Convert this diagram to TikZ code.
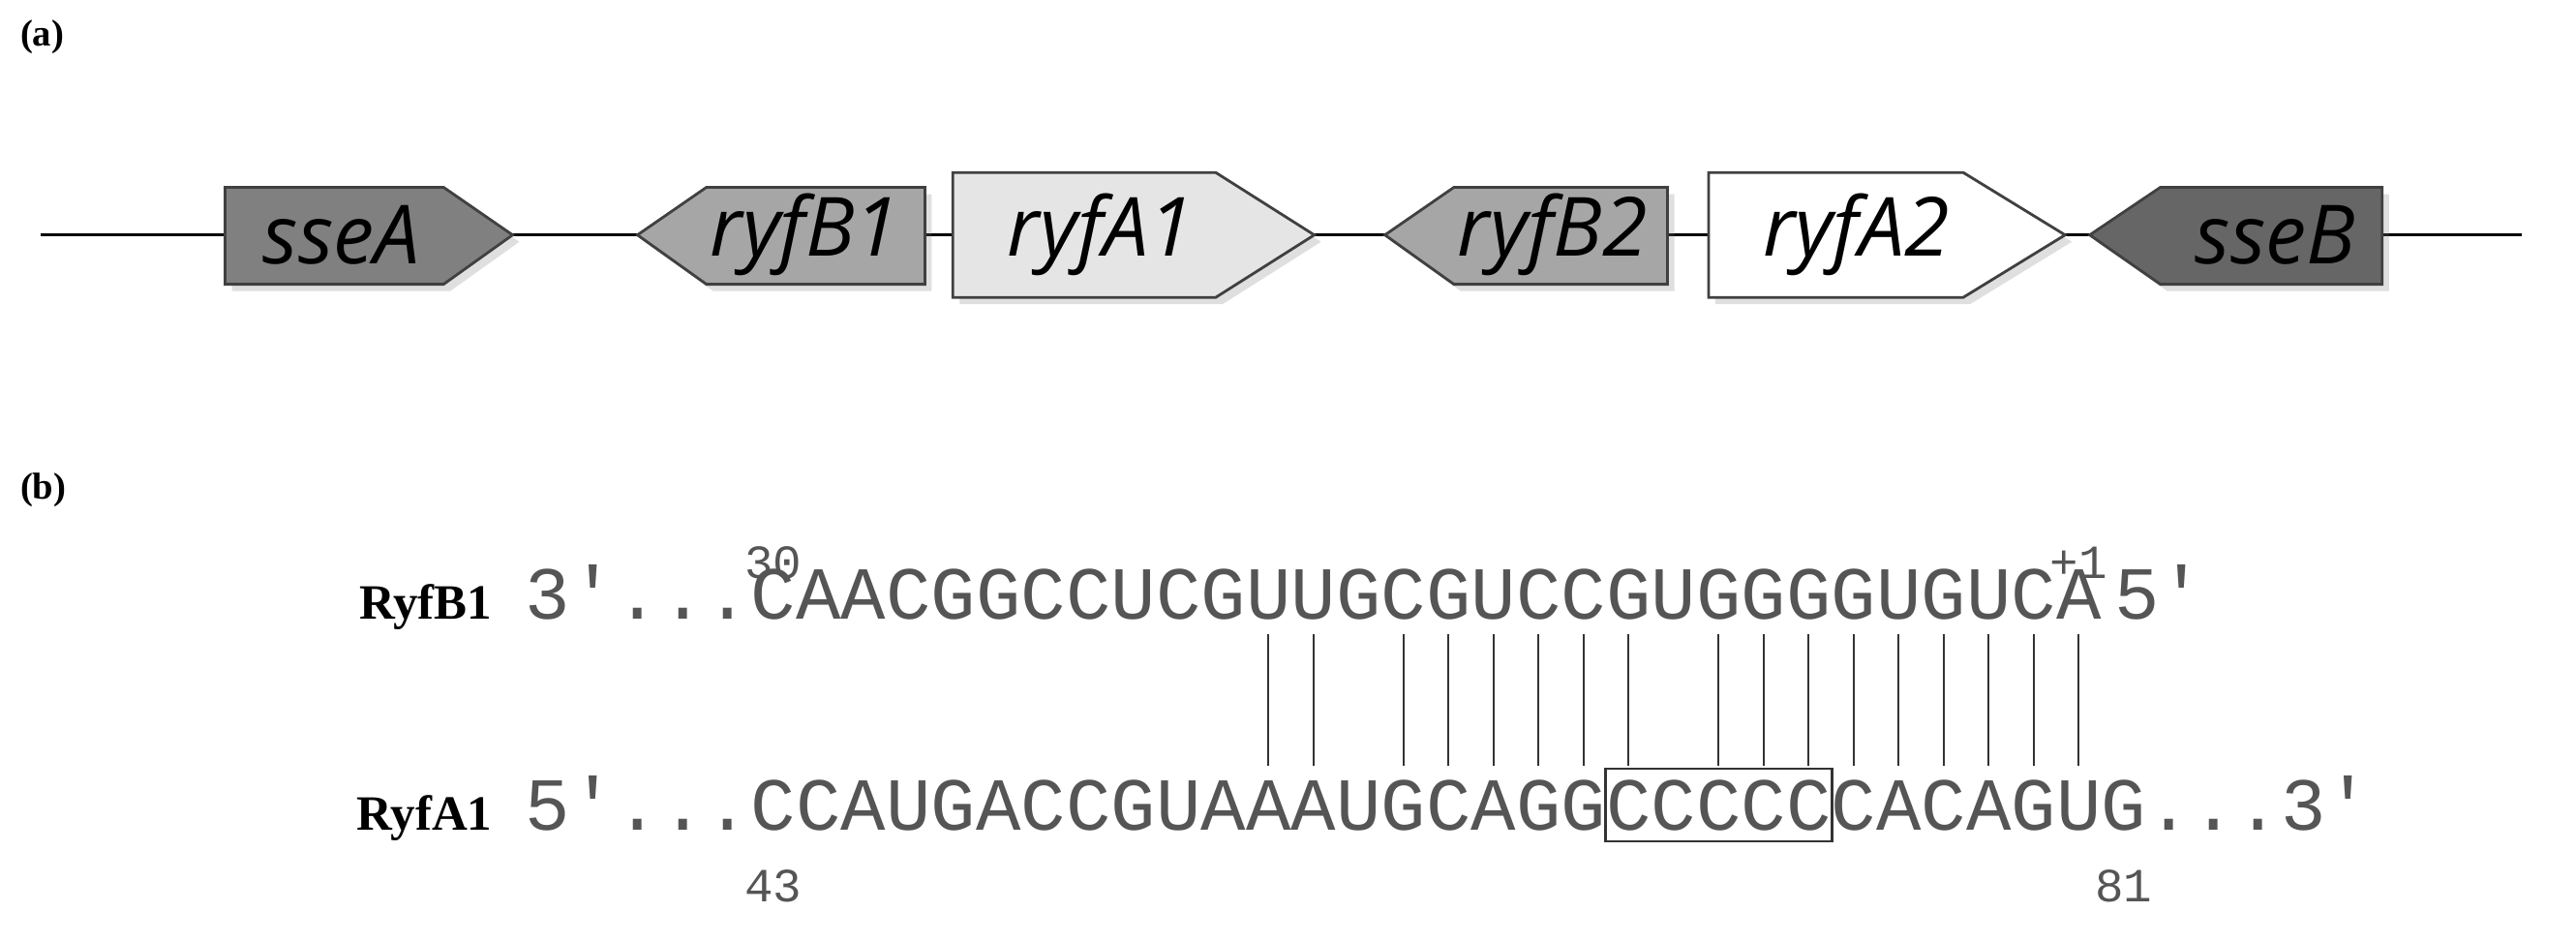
\documentclass[tikz,border=0pt]{standalone}
\usepackage{fontspec}
\setmainfont{Liberation Serif}
\newfontfamily\genefont{Open Sans}
\newfontfamily\seqfont{Liberation Mono}
\usetikzlibrary{shadows,fit}
\definecolor{seqgray}{HTML}{555555}

\begin{document}
\begin{tikzpicture}[x=0.01697cm, y=-0.01697cm,
    gene/.style={draw=black!75, line width=0.8pt, drop shadow={opacity=0.25, shadow xshift=2pt, shadow yshift=-2pt}},
    genelabel/.style={font=\genefont\itshape\fontsize{24}{24}\selectfont},
    seq/.style={font=\seqfont\fontsize{22}{22}\selectfont, text=seqgray, inner sep=0pt, anchor=base},
    num/.style={font=\seqfont\fontsize{14}{14}\selectfont, text=seqgray, inner sep=0pt, anchor=base},
    rowname/.style={font=\bfseries\fontsize{14.5}{14.5}\selectfont, inner sep=0pt, anchor=base east},
    panel/.style={font=\bfseries\fontsize{11}{11}\selectfont, inner sep=0pt, anchor=base west}]
  \useasboundingbox (0,0) rectangle (1568,573);

  % Panel (a): gene map
  \node[panel] (pa) at (12,28) {(a)};
  \coordinate (left) at (25,143);
  \coordinate (right) at (1535,143);
  \draw[line width=0.8pt] (left) -- (right);

  \filldraw[gene, fill=black!50] (137,114) -- (270,114) -- (312,143) -- (270,173) -- (137,173) -- cycle;
  \node[genelabel] (sseA) at (208,143) {sseA};

  \filldraw[gene, fill=black!35] (388,143) -- (430,114) -- (563,114) -- (563,173) -- (430,173) -- cycle;
  \node[genelabel] (ryfB1) at (490,143) {ryfB1};

  \filldraw[gene, fill=black!10] (580,105) -- (740,105) -- (800,143) -- (740,181) -- (580,181) -- cycle;
  \node[genelabel] (ryfA1) at (670,143) {ryfA1};

  \filldraw[gene, fill=black!35] (843,143) -- (885,114) -- (1015,114) -- (1015,173) -- (885,173) -- cycle;
  \node[genelabel] (ryfB2) at (945,143) {ryfB2};

  \filldraw[gene, fill=white] (1040,105) -- (1195,105) -- (1257,143) -- (1195,181) -- (1040,181) -- cycle;
  \node[genelabel] (ryfA2) at (1130,143) {ryfA2};

  \filldraw[gene, fill=black!60] (1272,143) -- (1315,114) -- (1450,114) -- (1450,173) -- (1315,173) -- cycle;
  \node[genelabel] (sseB) at (1385,143) {sseB};

  % Panel (b): base pairing
  \node[panel] (pb) at (12,304) {(b)};
  \node[rowname] (nameB) at (300,377) {RyfB1};
  \node[rowname] (nameA) at (300,505) {RyfA1};

  \node[seq, anchor=base east] (endB3) at (457,377) {3\char"2032...};
  \node[seq, anchor=base east] (endA5) at (457,505) {5'...};

  \foreach \c [count=\i from 0] in {C,A,A,C,G,G,C,C,U,C,G,U,U,G,C,G,U,C,C,G,U,G,G,G,G,U,G,U,C,A}
    \node[seq] (b\i) at ({457+(\i+0.5)*27.4},377) {\c};
  \foreach \c [count=\i from 0] in {C,C,A,U,G,A,C,C,G,U,A,A,A,U,G,C,A,G,G,C,C,C,C,C,C,A,C,A,G,U,G}
    \node[seq] (a\i) at ({457+(\i+0.5)*27.4},505) {\c};

  \node[seq, anchor=base west] (endB5) at (1279,377) {\,5\char"2032};
  \node[seq, anchor=base west] (endA3) at (1306,505) {...3'};

  \node[num] (n30) at (b0.base) [yshift=0.42cm] {30};
  \node[num] (n1) at (b29.base) [yshift=0.42cm] {+1};
  \node[num] (n43) at (a0.base) [yshift=-0.74cm] {43};
  \node[num] (n81) at (a30.base) [yshift=-0.74cm] {81};

  \foreach \i in {11,12,14,15,16,17,18,19,21,22,23,24,25,26,27,28,29}
    \draw[line width=0.6pt, black!80] ([yshift=-4pt]b\i.south) -- ([yshift=4pt]a\i.north);

  \node[draw=black!80, line width=0.8pt, inner xsep=0pt, inner ysep=3pt, fit=(a19)(a23)] (box) {};
\end{tikzpicture}
\end{document}
